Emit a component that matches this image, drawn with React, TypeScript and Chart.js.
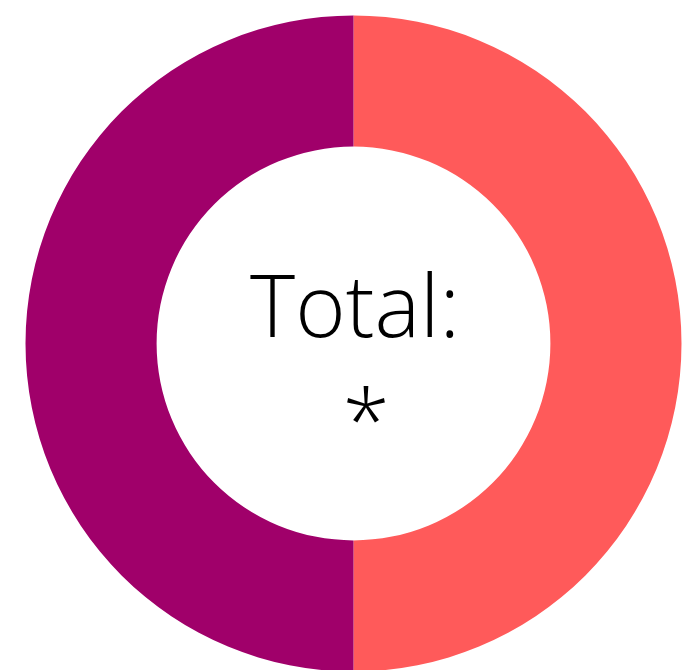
import React, { useEffect, useRef } from "react";
import { Chart, registerables } from "chart.js";

Chart.register(...registerables);

const categories = ["Segment A", "Segment B"];
const values = [50, 50];
const colors = ["#FF5A5A", "#A0006A"];
const centerLines = ["Total:", " *"];

const centerTextPlugin = {
  id: "centerText",
  afterDraw(chart: any) {
    const meta = chart.getDatasetMeta(0);
    if (!meta || !meta.data.length) return;
    const arc = meta.data[0];
    const cx = arc.x;
    const cy = arc.y;
    const ctx = chart.ctx;
    ctx.save();
    ctx.fillStyle = "#000";
    ctx.textAlign = "center";
    ctx.textBaseline = "alphabetic";
    ctx.font = "300 86px 'Open Sans'";
    ctx.fillText(centerLines[0], cx + 1.5, cy - 6.5);
    ctx.fillText(centerLines[1], cx + 1.5, cy + 108.5);
    ctx.restore();
  },
};

export default function App() {
  const ref = useRef<HTMLCanvasElement | null>(null);
  useEffect(() => {
    if (!ref.current) return;
    const chart = new Chart(ref.current, {
      type: "doughnut",
      data: {
        labels: categories,
        datasets: [
          {
            data: values,
            backgroundColor: colors,
            borderWidth: 0,
            hoverOffset: 0,
          },
        ],
      },
      options: {
        animation: false,
        responsive: true,
        maintainAspectRatio: false,
        radius: 328,
        cutout: 196,
        layout: { padding: { left: 8, top: 17, right: 0, bottom: 0 } },
        plugins: {
          legend: { display: false },
          tooltip: { enabled: false },
        },
      },
      plugins: [centerTextPlugin],
    });
    return () => chart.destroy();
  }, []);
  return (
    <div style={{ position: "fixed", left: 0, top: 0, width: 699, height: 670 }}>
      <canvas ref={ref} />
    </div>
  );
}
